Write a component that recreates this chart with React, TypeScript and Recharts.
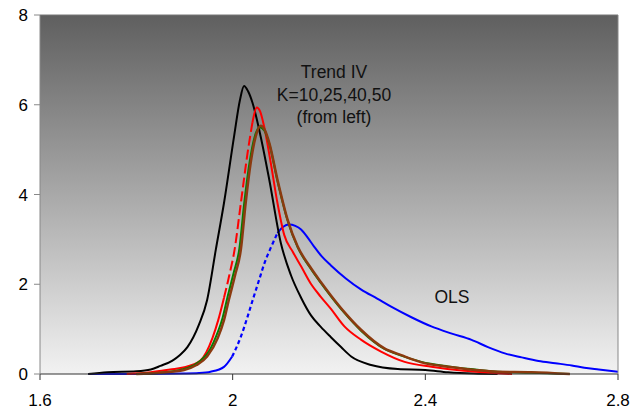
import { LineChart, Line, XAxis, YAxis, CartesianGrid } from "recharts";

// K=10 (black)
const k10X = [1.70, 1.74, 1.80, 1.83, 1.85, 1.875, 1.89, 1.906, 1.93, 1.947, 1.965, 1.982, 2.003, 2.015, 2.0236, 2.032, 2.041, 2.058, 2.076, 2.10, 2.121, 2.142, 2.163, 2.183, 2.204, 2.225, 2.246, 2.2875, 2.343, 2.40, 2.447, 2.50, 2.55];
const k10Y = [0, 0.04, 0.06, 0.1, 0.18, 0.3, 0.42, 0.6, 1.1, 1.65, 2.77, 3.81, 5.3, 6.1, 6.42, 6.3, 6.05, 5.3, 4.33, 2.92, 2.2, 1.7, 1.3, 1.05, 0.82, 0.6, 0.39, 0.2, 0.11, 0.09, 0.04, 0.01, 0];

// K=25 (red)
const k25X = [1.78, 1.83, 1.87, 1.90, 1.933, 1.958, 1.97, 1.982, 1.993, 2.004, 2.017, 2.031, 2.041, 2.05, 2.057, 2.065, 2.079, 2.093, 2.107, 2.125, 2.142, 2.163, 2.183, 2.204, 2.232, 2.267, 2.308, 2.357, 2.4125, 2.48, 2.53, 2.58];
const k25Y = [0, 0.04, 0.1, 0.15, 0.3, 0.8, 1.2, 1.7, 2.2, 2.77, 3.81, 4.93, 5.6, 5.94, 5.85, 5.53, 4.71, 3.81, 3.1, 2.72, 2.4, 2.0, 1.72, 1.45, 1.06, 0.76, 0.5, 0.27, 0.16, 0.07, 0.03, 0];

// K=40 (green)
const k40X = [1.80, 1.85, 1.895, 1.945, 1.966, 1.979, 1.989, 2.002, 2.014, 2.024, 2.035, 2.046, 2.056, 2.066, 2.076, 2.093, 2.114, 2.135, 2.16, 2.183, 2.204, 2.232, 2.267, 2.315, 2.35, 2.392, 2.447, 2.503, 2.55, 2.62, 2.7];
const k40Y = [0, 0.03, 0.1, 0.42, 0.85, 1.25, 1.7, 2.25, 2.8, 3.81, 4.71, 5.3, 5.5, 5.42, 5.13, 4.3, 3.42, 2.82, 2.38, 2.03, 1.73, 1.36, 0.96, 0.56, 0.41, 0.27, 0.17, 0.1, 0.05, 0.03, 0];

// K=50 (brown)
const k50X = [1.80, 1.85, 1.899, 1.925, 1.947, 1.969, 1.982, 1.992, 2.005, 2.017, 2.027, 2.0375, 2.048, 2.058, 2.066, 2.076, 2.093, 2.114, 2.135, 2.16, 2.183, 2.204, 2.232, 2.267, 2.315, 2.35, 2.392, 2.447, 2.503, 2.55, 2.62, 2.7];
const k50Y = [0, 0.03, 0.09, 0.2, 0.39, 0.8, 1.2, 1.65, 2.2, 2.77, 3.81, 4.71, 5.3, 5.53, 5.45, 5.15, 4.33, 3.44, 2.84, 2.4, 2.05, 1.75, 1.38, 0.98, 0.57, 0.42, 0.26, 0.16, 0.09, 0.05, 0.04, 0];

// OLS (blue)
const olsX = [1.70, 1.80, 1.90, 1.93, 1.954, 1.982, 1.999, 2.017, 2.031, 2.044, 2.055, 2.067, 2.079, 2.093, 2.105, 2.117, 2.13, 2.142, 2.155, 2.169, 2.185, 2.204, 2.235, 2.267, 2.30, 2.329, 2.37, 2.4125, 2.455, 2.496, 2.53, 2.565, 2.60, 2.635, 2.67, 2.704, 2.73, 2.76, 2.80];
const olsY = [0, 0, 0.01, 0.02, 0.05, 0.16, 0.39, 0.83, 1.28, 1.73, 2.1, 2.5, 2.81, 3.14, 3.28, 3.33, 3.3, 3.22, 3.05, 2.84, 2.62, 2.42, 2.13, 1.88, 1.68, 1.5, 1.27, 1.06, 0.9, 0.76, 0.6, 0.46, 0.37, 0.29, 0.24, 0.19, 0.14, 0.1, 0.05];

const xTicks = [1.6, 2.0, 2.4, 2.8];
const yTicks = [0, 2, 4, 6, 8];

function pts(xs: number[], ys: number[], from = -Infinity, to = Infinity) {
  return xs
    .map((x, i) => ({ x, y: ys[i] }))
    .filter((p) => p.x >= from && p.x <= to);
}

const font = "'Liberation Sans', Arial, sans-serif";
const tickStyle = { fill: "#000", fontSize: 17, fontFamily: font };

export default function App() {
  return (
    <div style={{ position: "absolute", left: 0, top: 0, width: 643, height: 416 }}>
      <LineChart
        width={643}
        height={416}
        margin={{ top: 15, right: 25, left: 0, bottom: 0 }}
      >
        <defs>
          <linearGradient id="bg" x1="0" y1="0" x2="0" y2="1">
            <stop offset="0%" stopColor="#5f5f5f" />
            <stop offset="100%" stopColor="#f2f2f2" />
          </linearGradient>
        </defs>
        <CartesianGrid
          horizontal={false}
          vertical={false}
          fill="url(#bg)"
          fillOpacity={1}
        />
        <XAxis
          type="number"
          dataKey="x"
          domain={[1.6, 2.8]}
          ticks={xTicks}
          allowDataOverflow
          height={42}
          tick={tickStyle}
          tickSize={6}
          tickMargin={14}
          stroke="#333"
        />
        <YAxis
          type="number"
          domain={[0, 8]}
          ticks={yTicks}
          width={40}
          tick={tickStyle}
          tickSize={6}
          tickMargin={6}
          stroke="#888"
        />
        <Line data={pts(olsX, olsY, -Infinity, 1.999)} dataKey="y" type="monotone" stroke="#0000ff" strokeWidth={2} dot={false} isAnimationActive={false} />
        <Line data={pts(olsX, olsY, 1.999, 2.093)} dataKey="y" type="monotone" stroke="#0000ff" strokeWidth={2.2} strokeDasharray="4 3" dot={false} isAnimationActive={false} />
        <Line data={pts(olsX, olsY, 2.093)} dataKey="y" type="monotone" stroke="#0000ff" strokeWidth={2} dot={false} isAnimationActive={false} />
        <Line data={pts(k10X, k10Y)} dataKey="y" type="monotone" stroke="#000000" strokeWidth={2} dot={false} isAnimationActive={false} />
        <Line data={pts(k25X, k25Y, -Infinity, 1.982)} dataKey="y" type="monotone" stroke="#ff0000" strokeWidth={2} dot={false} isAnimationActive={false} />
        <Line data={pts(k25X, k25Y, 1.982, 2.041)} dataKey="y" type="monotone" stroke="#ff0000" strokeWidth={2} strokeDasharray="10 4" dot={false} isAnimationActive={false} />
        <Line data={pts(k25X, k25Y, 2.041)} dataKey="y" type="monotone" stroke="#ff0000" strokeWidth={2} dot={false} isAnimationActive={false} />
        <Line data={pts(k40X, k40Y)} dataKey="y" type="monotone" stroke="#008000" strokeWidth={2} dot={false} isAnimationActive={false} />
        <Line data={pts(k50X, k50Y)} dataKey="y" type="monotone" stroke="#8b3a0f" strokeWidth={2.5} dot={false} isAnimationActive={false} />
      </LineChart>
      <svg width={643} height={416} style={{ position: "absolute", left: 0, top: 0, pointerEvents: "none" }}>
        <line x1={40} y1={15} x2={618} y2={15} stroke="#777" strokeWidth={1} />
        <line x1={618} y1={15} x2={618} y2={374} stroke="#888" strokeWidth={1} />
      </svg>
      <div style={{ position: "absolute", left: 234, width: 200, top: 61, textAlign: "center", fontFamily: font, fontSize: 17.5, lineHeight: "22.5px", color: "#111" }}>
        Trend IV<br />K=10,25,40,50<br />(from left)
      </div>
      <div style={{ position: "absolute", left: 422, width: 60, top: 286, textAlign: "center", fontFamily: font, fontSize: 17.5, lineHeight: "22px", color: "#111" }}>
        OLS
      </div>
    </div>
  );
}
